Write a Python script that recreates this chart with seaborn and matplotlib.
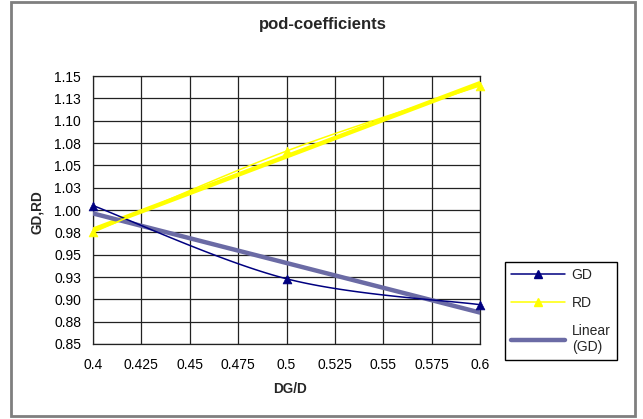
import numpy as np
import pandas as pd
import matplotlib
matplotlib.use("Agg")
import matplotlib.pyplot as plt
import seaborn as sns
from matplotlib.lines import Line2D
from matplotlib.patches import Rectangle

# ---- data ----
x_vals = [0.4, 0.5, 0.6]
gd_vals = [1.005, 0.923, 0.894]
rd_vals = [0.975, 1.066, 1.139]
x_ticks = [0.4, 0.425, 0.45, 0.475, 0.5, 0.525, 0.55, 0.575, 0.6]
x_tick_labels = ["0.4", "0.425", "0.45", "0.475", "0.5", "0.525", "0.55", "0.575", "0.6"]
y_ticks = [0.85, 0.875, 0.9, 0.925, 0.95, 0.975, 1.0, 1.025, 1.05, 1.075, 1.1, 1.125, 1.15]
y_tick_labels = ["0.85", "0.88", "0.90", "0.93", "0.95", "0.98", "1.00", "1.03",
                 "1.05", "1.08", "1.10", "1.13", "1.15"]

sns.set_theme(style="white")
plt.rcParams["font.family"] = ["Liberation Sans", "DejaVu Sans"]


def excel_smooth(xs, ys, n=40):
    P = np.column_stack([xs, ys]).astype(float)
    out = []
    for i in range(len(P) - 1):
        p0 = P[i - 1] if i > 0 else P[i]
        p3 = P[i + 2] if i + 2 < len(P) else P[i + 1]
        c1 = P[i] + (P[i + 1] - p0) / 6.0
        c2 = P[i + 1] - (p3 - P[i]) / 6.0
        t = np.linspace(0, 1, n)[:, None]
        seg = ((1 - t) ** 3) * P[i] + 3 * ((1 - t) ** 2) * t * c1 + 3 * (1 - t) * t ** 2 * c2 + t ** 3 * P[i + 1]
        out.append(seg if i == 0 else seg[1:])
    arr = np.vstack(out)
    return arr[:, 0], arr[:, 1]


GD_C = "#000080"
RD_C = "#FFFF00"
TR_C = "#6B6BA5"

fig = plt.figure(figsize=(6.43, 4.19), dpi=100)
ax = fig.add_axes([0.1446, 0.179, 0.602, 0.6396])

# trend lines (least squares from data)
xa = np.array(x_vals)
k_gd = np.polyfit(xa, gd_vals, 1)
k_rd = np.polyfit(xa, rd_vals, 1)
xt = np.array([x_vals[0], x_vals[-1]])
sns.lineplot(x=xt, y=np.polyval(k_rd, xt), ax=ax, color=RD_C, lw=3.2, estimator=None, sort=False, zorder=3)
sns.lineplot(x=xt, y=np.polyval(k_gd, xt), ax=ax, color=TR_C, lw=3.2, estimator=None, sort=False, zorder=4)

# smoothed series
sx, sy = excel_smooth(x_vals, gd_vals)
sns.lineplot(x=sx, y=sy, ax=ax, color=GD_C, lw=1.1, estimator=None, sort=False, zorder=5)
sx, sy = excel_smooth(x_vals, rd_vals)
sns.lineplot(x=sx, y=sy, ax=ax, color=RD_C, lw=1.1, estimator=None, sort=False, zorder=5)
sns.scatterplot(x=x_vals, y=gd_vals, ax=ax, color=GD_C, marker="^", s=40, edgecolor=GD_C, zorder=6, clip_on=False)
sns.scatterplot(x=x_vals, y=rd_vals, ax=ax, color=RD_C, marker="^", s=40, edgecolor=RD_C, zorder=6, clip_on=False)

ax.set_xlim(0.4, 0.6)
ax.set_ylim(0.85, 1.15)
ax.set_xticks(x_ticks)
ax.set_xticklabels(x_tick_labels)
ax.set_yticks(y_ticks)
ax.set_yticklabels(y_tick_labels)
ax.grid(True, color="#222222", lw=0.9)
ax.set_axisbelow(True)
for s in ax.spines.values():
    s.set_color("#222222")
    s.set_linewidth(0.9)
ax.tick_params(axis="both", which="major", length=3.5, width=0.9, color="#222222",
               direction="out", labelsize=10, pad=5, colors="black")
ax.tick_params(axis="x", pad=6.5)
ax.set_xlabel("")
ax.set_ylabel("")

fig.text(323/643, 1 - 24/419, "pod-coefficients", ha="center", va="center",
         fontsize=12, fontweight="bold")
fig.text(290/643, 1 - 389/419, "DG/D", ha="center", va="center", fontsize=9.8, fontweight="bold")
fig.text(37/643, 1 - 212/419, "GD,RD", ha="center", va="center", rotation=90,
         fontsize=9.8, fontweight="bold")

handles = [
    Line2D([], [], color=GD_C, lw=1.1, marker="^", ms=6),
    Line2D([], [], color=RD_C, lw=1.1, marker="^", ms=6),
    Line2D([], [], color=TR_C, lw=3.2),
]
leg = fig.legend(handles, ["GD", "RD", "Linear\n(GD)"], loc="upper left",
                 bbox_to_anchor=(505/643, 1 - 262/419), fontsize=10,
                 frameon=True, fancybox=False, edgecolor="black", framealpha=1,
                 handlelength=3.9, handletextpad=0.45, labelspacing=1.0,
                 borderpad=0.45, borderaxespad=0)
leg.get_frame().set_linewidth(1.0)

fig.patches.append(Rectangle((11/643, 1 - 416/419), (635-11)/643, (416-2)/419,
                             transform=fig.transFigure, fill=False,
                             edgecolor="#7f7f7f", lw=2, zorder=0))

fig.savefig("out.png", dpi=100)
